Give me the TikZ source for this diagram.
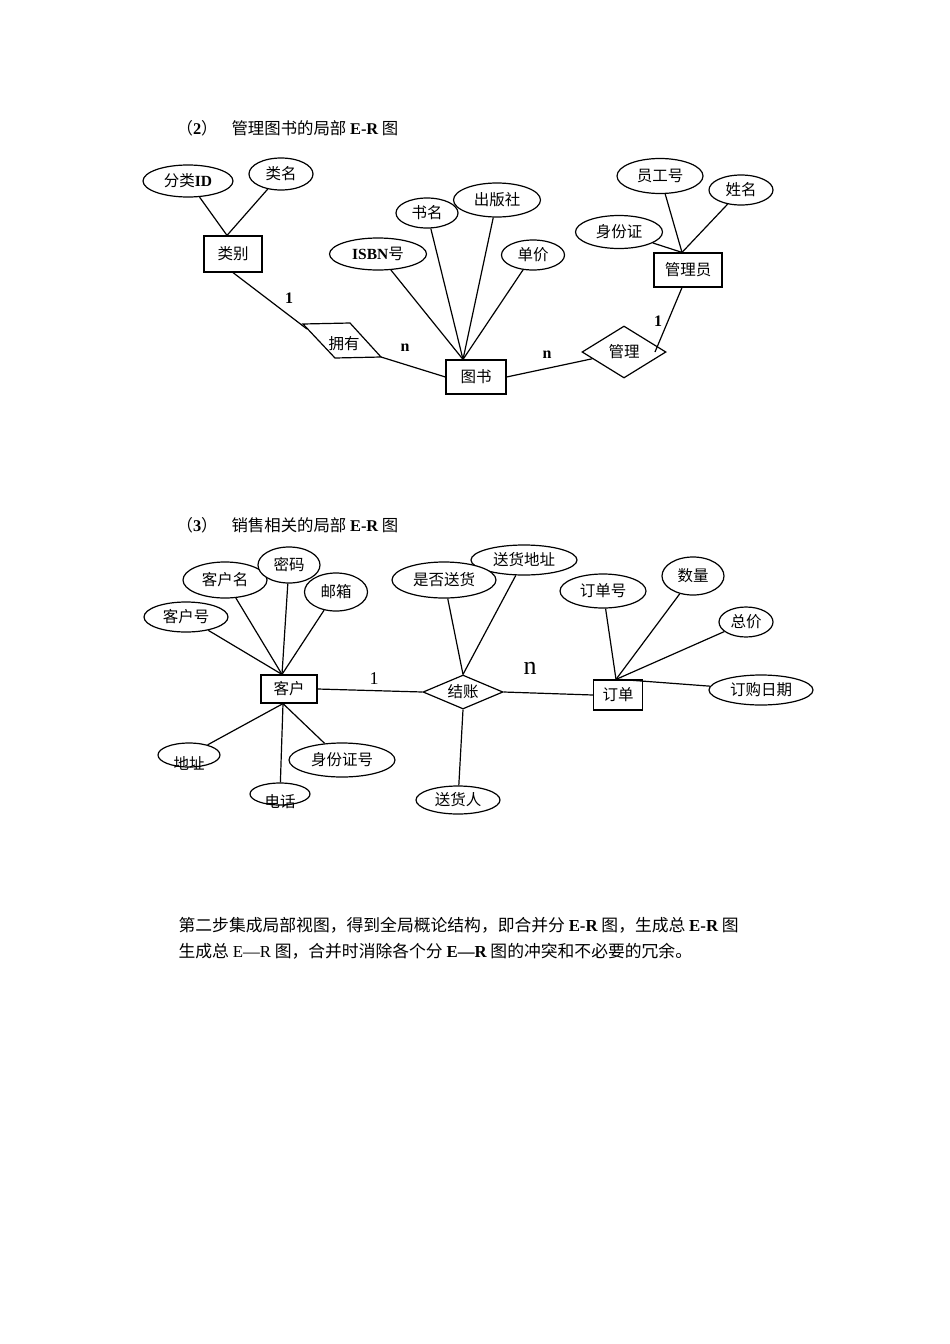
\documentclass[tikz,border=0pt]{standalone}
\usepackage{fontspec}
\setmainfont{Liberation Serif}
\newfontfamily\cjk{Noto Sans CJK SC}
\usetikzlibrary{shapes.geometric}
\newcommand\enb[1]{{\rmfamily\bfseries #1}}

\begin{document}
\begin{tikzpicture}[x=1pt, y=-1pt, line width=1.2pt,
    attr/.style={draw, ellipse, fill=white, inner sep=0pt, font=\cjk\fontsize{15.5}{18}\selectfont},
    entity/.style={draw, rectangle, inner sep=0pt, font=\cjk\fontsize{15.5}{18}\selectfont},
    rel/.style={draw, diamond, fill=white, inner sep=0pt, font=\cjk\fontsize{15.5}{18}\selectfont},
    word/.style={inner sep=0pt, font=\cjk\fontsize{15.5}{18}\selectfont},
    card/.style={inner sep=0pt, font=\fontsize{16}{18}\selectfont\bfseries},
    heading/.style={anchor=west, inner sep=0pt, font=\cjk\fontsize{16.4}{20}\selectfont}]
  \useasboundingbox[fill=white] (0,0) rectangle (950,1344);

  \node[heading] (title2) at (176,128) {（\enb{2}）\hspace{14pt}管理图书的局部 \enb{E-R} 图};

  \node[attr, minimum width=90, minimum height=32] (flid) at (188,181) {分类\enb{ID}};
  \node[attr, minimum width=64, minimum height=32] (lm) at (281,174) {类名};
  \node[entity, minimum width=58, minimum height=36] (lb) at (233,254) {类别};
  \node[attr, minimum width=62, minimum height=30] (sm) at (427,213) {书名};
  \node[attr, minimum width=87, minimum height=34] (cbs) at (497,200) {出版社};
  \node[attr, minimum width=97, minimum height=32] (isbn) at (378,254) {\enb{ISBN}号};
  \node[attr, minimum width=63, minimum height=30] (dj) at (533,255) {单价};
  \node[entity, minimum width=60, minimum height=34] (ts) at (476,377) {图书};
  \node[word] (yy) at (344,344) {拥有};
  \node[rel, minimum width=84, minimum height=52] (gl) at (624,352) {管理};
  \node[entity, minimum width=68, minimum height=34] (gly) at (688,270) {管理员};
  \node[attr, minimum width=86, minimum height=35] (ygh) at (660,176) {员工号};
  \node[attr, minimum width=64, minimum height=30] (xm) at (741,190) {姓名};
  \node[attr, minimum width=87, minimum height=33] (sfz) at (619,232) {身份证};

  \draw ([shift={(-41,-20)}]yy.center) coordinate (yyL) -- ([shift={(6,-21)}]yy.center)
    -- ([shift={(37,13)}]yy.center) coordinate (yyR) -- ([shift={(-9,14)}]yy.center) -- cycle;

  \foreach \a in {flid,lm} \draw (\a) -- ([xshift=-6]lb.north);
  \foreach \a in {isbn,sm,cbs,dj} \draw (\a) -- ([xshift=-13]ts.north);
  \foreach \a in {ygh,xm,sfz} \draw (\a) -- ([xshift=-6]gly.north);
  \draw (lb.south) -- ([shift={(4,5)}]yyL);
  \draw (yyR) -- (ts.west);
  \draw (ts.east) -- (gl);
  \draw ([xshift=-6]gly.south) -- ([xshift=31]gl.center);
  \node[card] (c1) at (289,298) {1};
  \node[card] (c2) at (405,348) {n};
  \node[card] (c3) at (547,355) {n};
  \node[card] (c4) at (658,321) {1};

  \node[heading] (title3) at (176,525) {（\enb{3}）\hspace{14pt}销售相关的局部 \enb{E-R} 图};

  \node[attr, minimum width=84, minimum height=36] (khm) at (225,580) {客户名};
  \node[attr, minimum width=62, minimum height=36] (mm) at (289,565) {密码};
  \node[attr, minimum width=63, minimum height=38] (yx) at (336,592) {邮箱};
  \node[attr, minimum width=84, minimum height=30] (khh) at (186,617) {客户号};
  \node[entity, minimum width=56, minimum height=28] (kh) at (289,689) {客户};
  \node[attr, minimum width=62, minimum height=24, label={[word, yshift=-8pt]center:地址}] (dz) at (189,755) {};
  \node[attr, minimum width=60, minimum height=22, label={[word, yshift=-8pt]center:电话}] (dh) at (280,794) {};
  \node[attr, minimum width=106, minimum height=34] (sfzh) at (342,760) {身份证号};
  \node[attr, minimum width=106, minimum height=30] (shdz) at (524,560) {送货地址};
  \node[attr, minimum width=104, minimum height=36] (sfsh) at (444,580) {是否送货};
  \node[rel, minimum width=80, minimum height=34, aspect=2.4] (js) at (463,692) {结账};
  \node[attr, minimum width=84, minimum height=28] (shr) at (458,800) {送货人};
  \node[entity, minimum width=49, minimum height=30] (dd) at (618,695) {订单};
  \node[attr, minimum width=86, minimum height=34] (ddh) at (603,591) {订单号};
  \node[attr, minimum width=62, minimum height=38] (sl) at (693,576) {数量};
  \node[attr, minimum width=54, minimum height=30] (zj) at (746,622) {总价};
  \node[attr, minimum width=104, minimum height=30] (dgrq) at (761,690) {订购日期};

  \foreach \a in {khh,khm,mm,yx} \draw (\a) -- ([xshift=-7]kh.north);
  \foreach \a in {dz,dh,sfzh} \draw (\a) -- ([xshift=-6]kh.south);
  \foreach \a in {sfsh,shdz} \draw (\a) -- (js.north);
  \foreach \a in {ddh,sl,zj} \draw (\a) -- ([xshift=-2]dd.north);
  \draw ([xshift=2]dd.north) -- (dgrq);
  \draw (js.south) -- (shr);
  \draw (kh.east) -- (js.west);
  \draw (js.east) -- (dd.west);
  \node[inner sep=0pt, font=\fontsize{18}{20}\selectfont] (c5) at (374,679) {1};
  \node[inner sep=0pt, font=\fontsize{26}{28}\selectfont] (c6) at (530,668) {n};

  \node[heading, font=\cjk\fontsize{16.8}{20}\selectfont] (p1) at (178,925)
    {第二步集成局部视图，得到全局概论结构，即合并分 \enb{E-R} 图，生成总 \enb{E-R} 图};
  \node[heading, font=\cjk\fontsize{16.8}{20}\selectfont] (p2) at (178,951)
    {生成总 {\rmfamily E—R} 图，合并时消除各个分 \enb{E—R} 图的冲突和不必要的冗余。};
\end{tikzpicture}
\end{document}
